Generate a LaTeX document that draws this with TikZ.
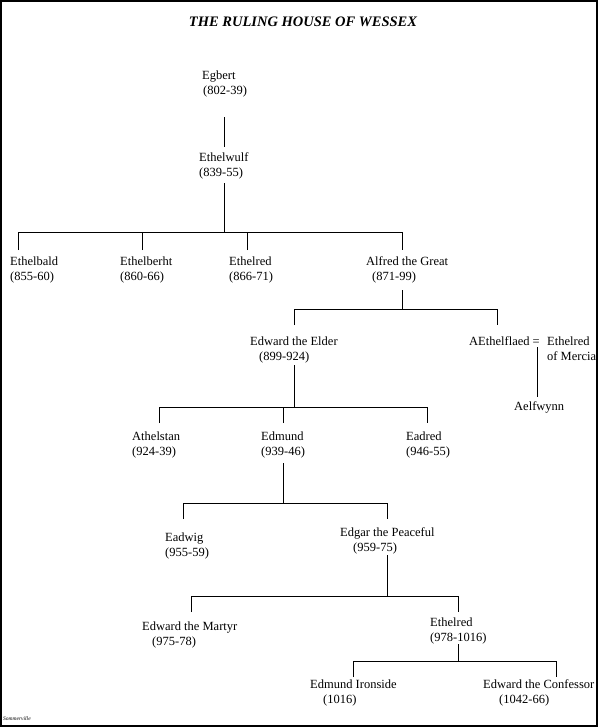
\documentclass[tikz,border=0pt]{standalone}
\usepackage{fontspec}
\setmainfont{Liberation Serif}
\newcommand{\pers}[2]{\begin{tabular}[t]{@{}l@{}}#1\\#2\end{tabular}}
\tikzset{
  person/.style={anchor=base west, inner sep=0pt, font=\fontsize{12.5}{15}\selectfont},
  link/.style={line width=0.9pt, black},
  frame/.style={line width=1.3pt, black}
}
\begin{document}
\begin{tikzpicture}[x=1pt,y=-1pt]
\path[fill=white, use as bounding box] (0,0) rectangle (600,728);
\draw[frame] (1,1) rectangle (597,726);
% title
\node[inner sep=0pt, anchor=base, font=\fontsize{14.5}{16}\selectfont\bfseries\itshape] (title) at (303,27) {THE RULING HOUSE OF WESSEX};
% people
\node[person] (egbert) at (202,79) {\pers{Egbert}{\hspace*{1pt}(802-39)}};
\node[person] (ethelwulf) at (199,161) {\pers{Ethelwulf}{(839-55)}};
\node[person] (ethelbald) at (10,265) {\pers{Ethelbald}{(855-60)}};
\node[person] (ethelberht) at (120,265) {\pers{Ethelberht}{(860-66)}};
\node[person] (ethelredA) at (229,265) {\pers{Ethelred}{(866-71)}};
\node[person] (alfred) at (366,265) {\pers{Alfred the Great}{\hspace*{6pt}(871-99)}};
\node[person] (edwardelder) at (250,345) {\pers{Edward the Elder}{\hspace*{9pt}(899-924)}};
\node[person] (aethelflaed) at (469,345) {AEthelflaed =};
\node[person] (ethelredM) at (547,345) {\pers{Ethelred}{of Mercia}};
\node[person] (aelfwynn) at (514,410) {Aelfwynn};
\node[person] (athelstan) at (132,440) {\pers{Athelstan}{(924-39)}};
\node[person] (edmund) at (261,440) {\pers{Edmund}{(939-46)}};
\node[person] (eadred) at (406,440) {\pers{Eadred}{(946-55)}};
\node[person] (eadwig) at (165,541) {\pers{Eadwig}{(955-59)}};
\node[person] (edgar) at (340,536) {\pers{Edgar the Peaceful}{\hspace*{13pt}(959-75)}};
\node[person] (martyr) at (142,630) {\pers{Edward the Martyr}{\hspace*{10pt}(975-78)}};
\node[person] (ethelredB) at (430,626) {\pers{Ethelred}{(978-1016)}};
\node[person] (ironside) at (310,688) {\pers{Edmund Ironside}{\hspace*{13pt}(1016)}};
\node[person] (confessor) at (483,688) {\pers{Edward the Confessor}{\hspace*{16pt}(1042-66)}};
\node[inner sep=0pt, anchor=base west, font=\fontsize{5.5}{6}\selectfont\itshape] (sig) at (3,720) {Sommerville};
% connector coordinates
\coordinate (egA) at (224,117); \coordinate (egB) at (224,147);
\coordinate (ewA) at (224,183); \coordinate (ewJ) at (224,232);
\coordinate (bar1L) at (18,232); \coordinate (bar1R) at (402,232);
\coordinate (d1a) at (18,250); \coordinate (d1b) at (142,250); \coordinate (d1c) at (247,250); \coordinate (d1d) at (402,250);
\coordinate (alA) at (402,290); \coordinate (alJ) at (402,309);
\coordinate (bar2L) at (294,309); \coordinate (bar2R) at (497,309);
\coordinate (d2a) at (294,325); \coordinate (d2b) at (497,325);
\coordinate (eqA) at (537,347); \coordinate (eqB) at (537,397);
\coordinate (eeA) at (294,365); \coordinate (eeJ) at (294,407);
\coordinate (bar3L) at (159,407); \coordinate (bar3R) at (427,407);
\coordinate (d3a) at (159,423); \coordinate (d3b) at (283,423); \coordinate (d3c) at (427,423);
\coordinate (edA) at (283,463); \coordinate (edJ) at (283,503);
\coordinate (bar4L) at (183,503); \coordinate (bar4R) at (387,503);
\coordinate (d4a) at (183,519); \coordinate (d4b) at (387,519);
\coordinate (egpA) at (387,555); \coordinate (egpJ) at (387,596);
\coordinate (bar5L) at (191,596); \coordinate (bar5R) at (458,596);
\coordinate (d5a) at (191,612); \coordinate (d5b) at (458,612);
\coordinate (erA) at (458,644); \coordinate (erJ) at (458,661);
\coordinate (bar6L) at (353,661); \coordinate (bar6R) at (556,661);
\coordinate (d6a) at (353,677); \coordinate (d6b) at (556,677);
% connectors
\draw[link] (egA) -- (egB);
\draw[link] (ewA) -- (ewJ);
\draw[link] (d1a) -- (bar1L) -- (bar1R) -- (d1d);
\draw[link] (d1b) -- (d1b |- bar1L);
\draw[link] (d1c) -- (d1c |- bar1L);
\draw[link] (alA) -- (alJ);
\draw[link] (d2a) -- (bar2L) -- (bar2R) -- (d2b);
\draw[link] (eqA) -- (eqB);
\draw[link] (eeA) -- (eeJ);
\draw[link] (d3a) -- (bar3L) -- (bar3R) -- (d3c);
\draw[link] (d3b) -- (d3b |- bar3L);
\draw[link] (edA) -- (edJ);
\draw[link] (d4a) -- (bar4L) -- (bar4R) -- (d4b);
\draw[link] (egpA) -- (egpJ);
\draw[link] (d5a) -- (bar5L) -- (bar5R) -- (d5b);
\draw[link] (erA) -- (erJ);
\draw[link] (d6a) -- (bar6L) -- (bar6R) -- (d6b);
\end{tikzpicture}
\end{document}
